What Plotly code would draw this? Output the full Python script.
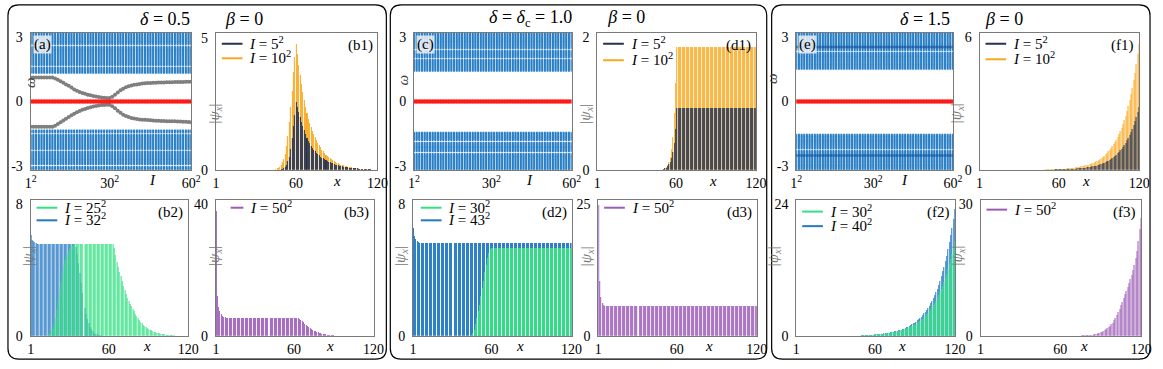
import plotly.graph_objects as go

W, H = 1163, 369

# ---- data -------------------------------------------------------------
n_vals = list(range(1, 61))          # I = n^2
sites = list(range(1, 121))          # lattice site x

# bulk band levels (omega) per panel
a_upper = [1.34, 1.39, 1.44, 1.49, 1.54, 1.59, 1.71, 1.76, 1.81, 1.86, 1.91, 1.96, 2.01, 2.06, 2.11, 2.16,
           2.21, 2.26, 2.31, 2.36, 2.41, 2.46, 2.51, 2.56, 2.68, 2.73, 2.78, 2.83, 2.88, 2.93, 2.98, 3.03,
           3.08, 3.13, 3.18, 3.23]
a_lower = [-1.35, -1.4, -1.45, -1.57, -1.62, -1.67, -1.72, -1.77, -1.82, -1.87, -1.92, -1.97, -2.02, -2.07,
           -2.12, -2.17, -2.22, -2.34, -2.39, -2.44, -2.49, -2.54, -2.59, -2.64, -2.69, -2.74, -2.79, -2.84,
           -2.89, -2.94, -3.06, -3.11, -3.16, -3.21]
c_upper = [1.44, 1.49, 1.54, 1.59, 1.64, 1.69, 1.74, 1.79, 1.84, 1.89, 1.94, 2.06, 2.11, 2.16, 2.21, 2.26,
           2.31, 2.36, 2.48, 2.53, 2.58, 2.63, 2.68, 2.73, 2.78, 2.83, 2.88, 2.93, 2.98, 3.03, 3.08, 3.13,
           3.18, 3.23]
c_lower = [-1.46, -1.51, -1.56, -1.61, -1.66, -1.71, -1.76, -1.81, -1.93, -1.98, -2.03, -2.08, -2.13, -2.18,
           -2.23, -2.28, -2.33, -2.45, -2.5, -2.55, -2.6, -2.65, -2.7, -2.75, -2.8, -2.85, -2.9, -2.95, -3.0,
           -3.05, -3.1, -3.15, -3.2]
e_upper = [1.53, 1.58, 1.63, 1.68, 1.73, 1.78, 1.83, 1.88, 1.93, 1.98, 2.03, 2.08, 2.13, 2.18, 2.23, 2.28,
           2.4, 2.45, 2.5, 2.55, 2.6, 2.65, 2.7, 2.75, 2.8, 2.85, 2.9, 2.95, 3.0, 3.05, 3.1, 3.15, 3.2]
e_lower = [-1.55, -1.6, -1.65, -1.7, -1.75, -1.8, -1.85, -1.9, -1.95, -2.0, -2.05, -2.1, -2.15, -2.2, -2.32,
           -2.37, -2.42, -2.47, -2.52, -2.57, -2.62, -2.67, -2.72, -2.77, -2.82, -2.87, -2.92, -2.97, -3.02,
           -3.07, -3.12, -3.17, -3.22]
e_dense = [2.55, -2.53]

# zero mode and edge states
zero_mode = [0.0] * 60
a_edge_up = [1.12] * 9 + [1.08, 1.02, 0.95, 0.88, 0.8, 0.73, 0.65, 0.56, 0.5, 0.44,
                          0.4, 0.36, 0.32, 0.29, 0.26, 0.23, 0.21, 0.19, 0.17, 0.16,
                          0.16, 0.22, 0.32, 0.42, 0.52, 0.6, 0.66, 0.71, 0.75, 0.78,
                          0.8, 0.82, 0.84, 0.85, 0.86, 0.87, 0.875, 0.88, 0.885, 0.89,
                          0.89, 0.9, 0.9, 0.905, 0.91, 0.91, 0.915, 0.915, 0.92, 0.92, 0.92]
a_edge_dn = [-1.18] * 9 + [-1.13, -1.05, -0.97, -0.89, -0.81, -0.73, -0.65, -0.57, -0.5, -0.44,
                           -0.39, -0.35, -0.31, -0.27, -0.24, -0.21, -0.19, -0.17, -0.16, -0.15,
                           -0.15, -0.22, -0.32, -0.43, -0.53, -0.62, -0.68, -0.73, -0.77, -0.8,
                           -0.82, -0.84, -0.85, -0.86, -0.87, -0.88, -0.89, -0.9, -0.9, -0.91,
                           -0.91, -0.92, -0.92, -0.93, -0.93, -0.94, -0.94, -0.95, -0.95, -0.96, -0.97]

# |psi_x| profiles
b1_I5 = [0] * 48 + [0.02, 0.04, 0.07, 0.12, 0.2, 0.32, 0.5, 0.8, 1.2, 1.65, 2.1, 2.57,
                    2.4, 2.2, 2.0, 1.8, 1.65, 1.5, 1.35, 1.22, 1.1, 1.0,
                    0.92, 0.84, 0.77, 0.71, 0.65, 0.6, 0.55, 0.5, 0.46, 0.43,
                    0.4, 0.37, 0.34, 0.31, 0.28, 0.26, 0.24, 0.22, 0.2, 0.18,
                    0.17, 0.15, 0.14, 0.13, 0.12, 0.11, 0.1, 0.09, 0.08, 0.075,
                    0.07, 0.065, 0.06, 0.055, 0.05, 0.045, 0.04, 0.035, 0.03, 0.03,
                    0.025, 0.02, 0.02, 0.015, 0.015, 0.01, 0.01, 0.01, 0.005, 0.005]
b1_I10 = [0] * 44 + [0.03, 0.05, 0.08, 0.12, 0.18, 0.28, 0.42, 0.6, 0.9, 1.3, 1.8, 2.4, 3.0, 3.7, 4.3, 4.77,
                     4.4, 4.0, 3.6, 3.25, 2.95, 2.65, 2.4, 2.15, 1.95, 1.78,
                     1.62, 1.48, 1.35, 1.23, 1.12, 1.02, 0.93, 0.85, 0.77, 0.7,
                     0.64, 0.58, 0.53, 0.48, 0.44, 0.4, 0.36, 0.33, 0.3, 0.27,
                     0.25, 0.22, 0.2, 0.18, 0.17, 0.15, 0.14, 0.12, 0.11, 0.1,
                     0.09, 0.08, 0.07, 0.065, 0.06, 0.05, 0.045, 0.04, 0.035, 0.03,
                     0.025, 0.02, 0.02, 0.015, 0.015, 0.01, 0.01, 0.01, 0.005, 0.005]
b2_I25 = [0] * 13 + [0.05, 0.1, 0.2, 0.35, 0.55, 0.75, 1.1, 1.6, 2.2, 2.8, 3.3, 3.8, 4.3, 4.6, 4.85, 5.05,
                     5.2, 5.35, 5.45, 5.52, 5.58] + [5.6] * 29 + \
         [5.35, 4.9, 4.5, 4.2, 3.9, 3.65, 3.35, 3.05, 2.8, 2.55,
          2.3, 2.1, 1.95, 1.8, 1.65, 1.5, 1.35, 1.2, 1.08, 0.96,
          0.86, 0.76, 0.66, 0.58, 0.52, 0.47, 0.42, 0.37, 0.33, 0.29,
          0.26, 0.23, 0.2, 0.18, 0.16, 0.14, 0.12, 0.1, 0.085, 0.07,
          0.06, 0.05, 0.04, 0.035, 0.03, 0.025, 0.02, 0.015, 0.01, 0.01,
          0.008, 0.006, 0.005, 0.004, 0.003, 0.002, 0.001]
b2_I32 = [6.1, 5.85, 5.75, 5.7, 5.65] + [5.6] * 29 + \
         [5.4, 5.0, 4.4, 3.8, 3.2, 2.6, 2.1, 1.7, 1.3, 1.0, 0.75, 0.55, 0.4, 0.3, 0.2, 0.14, 0.1, 0.06,
          0.04, 0.03, 0.02, 0.015, 0.01, 0.008, 0.005, 0.003] + [0] * 60
b3_I50 = [38, 12, 8.8, 7.5, 6.5, 6.0, 5.8, 5.65] + [5.55] * 55 + \
         [5.2, 4.8, 4.4, 4.1, 3.7, 3.3, 2.95, 2.6, 2.3, 2.05,
          1.8, 1.6, 1.4, 1.22, 1.07, 0.93, 0.8, 0.68, 0.58, 0.5,
          0.42, 0.35, 0.3, 0.25, 0.2, 0.16, 0.13, 0.1, 0.08, 0.06,
          0.05, 0.04, 0.03, 0.025, 0.02, 0.015, 0.012, 0.01, 0.008, 0.006,
          0.005, 0.004, 0.003, 0.002, 0.002, 0.001, 0.001, 0, 0, 0,
          0, 0, 0, 0, 0, 0, 0]
d1_I5 = [0] * 50 + [0.01, 0.02, 0.03, 0.05, 0.08, 0.12, 0.18, 0.27, 0.4, 0.62] + [0.93] * 60
d1_I10 = [0] * 50 + [0.01, 0.02, 0.04, 0.07, 0.12, 0.2, 0.32, 0.5, 0.85, 1.3] + [1.85] * 60
d2_I30 = [0] * 44 + [0.05, 0.15, 0.35, 0.7, 1.1, 1.5, 1.9, 2.4, 2.9, 3.35, 3.85, 4.3, 4.75, 5.05, 5.25] + [5.33] * 61
d2_I43 = [6.55, 6.05, 5.88, 5.76, 5.7, 5.66] + [5.63] * 114
d3_I50 = [24.8, 10.3, 7.3, 6.2, 5.85, 5.7] + [5.58] * 114
f1_I5 = [0] * 49 + [0.007, 0.008, 0.009, 0.01, 0.011, 0.012, 0.013, 0.014, 0.015, 0.016,
                    0.018, 0.02, 0.021, 0.023, 0.025, 0.028, 0.03, 0.033, 0.036, 0.039,
                    0.042, 0.046, 0.05, 0.055, 0.06, 0.065, 0.07, 0.078, 0.085, 0.09,
                    0.1, 0.11, 0.12, 0.13, 0.14, 0.15, 0.165, 0.18, 0.19, 0.21,
                    0.23, 0.25, 0.27, 0.3, 0.32, 0.35, 0.38, 0.41, 0.45, 0.49,
                    0.53, 0.58, 0.63, 0.68, 0.74, 0.81, 0.88, 0.95, 1.04, 1.13,
                    1.23, 1.33, 1.45, 1.57, 1.71, 1.86, 2.02, 2.2, 2.4, 2.62, 2.85]
f1_I10 = [0] * 49 + [0.014, 0.016, 0.017, 0.019, 0.021, 0.023, 0.025, 0.028, 0.03, 0.033,
                     0.036, 0.039, 0.042, 0.046, 0.05, 0.055, 0.06, 0.066, 0.072, 0.078,
                     0.085, 0.092, 0.1, 0.11, 0.12, 0.13, 0.14, 0.155, 0.17, 0.18,
                     0.2, 0.22, 0.24, 0.26, 0.28, 0.3, 0.33, 0.36, 0.39, 0.42,
                     0.46, 0.5, 0.54, 0.59, 0.64, 0.7, 0.76, 0.83, 0.9, 0.98,
                     1.07, 1.16, 1.26, 1.37, 1.49, 1.62, 1.76, 1.91, 2.08, 2.26,
                     2.46, 2.67, 2.9, 3.15, 3.42, 3.72, 4.05, 4.4, 4.8, 5.25, 5.7]
f2_I30 = [0] * 49 + [0.12, 0.13, 0.14, 0.15, 0.16, 0.17, 0.18, 0.2, 0.21, 0.23,
                     0.25, 0.26, 0.28, 0.31, 0.33, 0.35, 0.38, 0.4, 0.43, 0.47,
                     0.5, 0.54, 0.58, 0.62, 0.66, 0.71, 0.77, 0.82, 0.88, 0.95,
                     1.02, 1.09, 1.17, 1.26, 1.35, 1.45, 1.55, 1.67, 1.79, 1.92,
                     2.05, 2.2, 2.4, 2.55, 2.75, 2.95, 3.15, 3.4, 3.65, 3.9,
                     4.2, 4.5, 4.85, 5.2, 5.6, 6.0, 6.4, 6.9, 7.4, 7.9,
                     8.5, 9.1, 9.8, 10.5, 11.3, 12.1, 13.0, 13.9, 14.9, 16.0, 17.2]
f2_I40 = [0] * 49 + [0.11, 0.12, 0.13, 0.14, 0.15, 0.17, 0.18, 0.2, 0.21, 0.23,
                     0.25, 0.27, 0.3, 0.32, 0.34, 0.37, 0.4, 0.43, 0.46, 0.5,
                     0.54, 0.58, 0.63, 0.68, 0.73, 0.79, 0.85, 0.91, 0.98, 1.06,
                     1.14, 1.23, 1.33, 1.43, 1.55, 1.65, 1.8, 1.95, 2.1, 2.25,
                     2.4, 2.6, 2.8, 3.0, 3.25, 3.5, 3.8, 4.1, 4.4, 4.75,
                     5.1, 5.5, 5.9, 6.4, 6.9, 7.4, 8.0, 8.6, 9.3, 10.0,
                     10.8, 11.7, 12.6, 13.6, 14.6, 15.8, 17.0, 18.3, 19.7, 21.3, 23.0]
f3_I50 = [0] * 59 + [0.008, 0.01, 0.012, 0.014, 0.016, 0.018, 0.021, 0.024, 0.027, 0.03,
                     0.035, 0.04, 0.045, 0.05, 0.06, 0.07, 0.08, 0.095, 0.11, 0.13,
                     0.15, 0.18, 0.21, 0.25, 0.3, 0.35, 0.41, 0.49, 0.58, 0.7,
                     0.83, 0.97, 1.12, 1.3, 1.5, 1.7, 1.95, 2.25, 2.6, 3.0,
                     3.5, 4.0, 4.7, 5.4, 6.2, 7.0, 7.8, 8.6, 9.5, 10.3,
                     11.1, 12.0, 12.9, 13.9, 15.0, 16.2, 17.6, 19.2, 21.5, 24.2, 26.9]

for arr in [b1_I5, b1_I10, b2_I25, b2_I32, b3_I50, d1_I5, d1_I10, d2_I30, d2_I43, d3_I50,
            f1_I5, f1_I10, f2_I30, f2_I40, f3_I50]:
    assert len(arr) == 120, len(arr)
for arr in [a_edge_up, a_edge_dn]:
    assert len(arr) == 60, len(arr)

NAVY, ORANGE, GREEN, BLUE, PURPLE = "#25324f", "#f8a81e", "#33e084", "#2479c4", "#9b5cb8"
BAND, RED, GRAY = "#2a7fc6", "#ff1a1a", "#7f7f7f"
FONT = "Liberation Serif, Times New Roman, serif"
FRAME = "#7a7a7a"


def px(x):
    return x / W


def py(y):
    return 1 - y / H


fig = go.Figure()
layout = {}
annotations = []
shapes = []


def ax_name(i, kind):
    return f"{kind}axis" if i == 1 else f"{kind}axis{i}"


def ref(i, kind):
    return kind if i == 1 else f"{kind}{i}"


def setup_axes(i, box, xr, xticks, xtext, yr, yticks, ytext):
    l, t, r, b = box
    common = dict(showline=True, mirror=True, linecolor=FRAME, linewidth=1, showgrid=False,
                  zeroline=False, ticks="", tickfont=dict(family=FONT, size=14, color="black"))
    layout[ax_name(i, "x")] = dict(domain=[px(l), px(r)], range=xr, tickvals=xticks, ticktext=xtext,
                                   anchor=ref(i, "y"), **common)
    layout[ax_name(i, "y")] = dict(domain=[py(b), py(t)], range=yr, tickvals=yticks, ticktext=ytext,
                                   anchor=ref(i, "x"), ticklabelstandoff=4, **common)


def spectrum_panel(i, box, upper, lower, edges, dense, label, I_x, w_pos):
    setup_axes(i, box, [1, 60], [1, 30, 60], ["1<sup>2</sup>", "30<sup>2</sup>", "60<sup>2</sup>"],
               [-3.2, 3.2], [-3, 0, 3], ["-3", "0", "3"])
    levels = upper + lower
    xs = [n for lv in levels for n in n_vals]
    ys = [lv for lv in levels for n in n_vals]
    fig.add_trace(go.Scatter(x=xs, y=ys, mode="markers", xaxis=ref(i, "x"), yaxis=ref(i, "y"),
                             marker=dict(symbol="square", size=1.9, color=BAND, line_width=0),
                             showlegend=False, hoverinfo="skip"))
    if dense:
        xs = [n for lv in dense for n in n_vals]
        ys = [lv for lv in dense for n in n_vals]
        fig.add_trace(go.Scatter(x=xs, y=ys, mode="markers", xaxis=ref(i, "x"), yaxis=ref(i, "y"),
                                 marker=dict(symbol="square", size=2.4, color="#2064a8", line_width=0),
                                 showlegend=False, hoverinfo="skip"))
    for e in edges:
        fig.add_trace(go.Scatter(x=n_vals, y=e, mode="markers", xaxis=ref(i, "x"), yaxis=ref(i, "y"),
                                 marker=dict(size=4, color=GRAY), showlegend=False, hoverinfo="skip"))
    fig.add_trace(go.Scatter(x=n_vals, y=zero_mode, mode="markers", xaxis=ref(i, "x"), yaxis=ref(i, "y"),
                             marker=dict(size=4.5, color=RED), showlegend=False, hoverinfo="skip"))
    l, t, r, b = box
    annotations.append(dict(x=px(l + 2), y=py(t + 2), xref="paper", yref="paper", xanchor="left",
                            yanchor="top", text=label, showarrow=False, bgcolor="rgba(235,240,245,0.85)",
                            borderpad=0, font=dict(family=FONT, size=15, color="black")))
    annotations.append(dict(x=px(I_x), y=py(b + 10), xref="paper", yref="paper", text="<i>I</i>",
                            yanchor="middle", showarrow=False, font=dict(family=FONT, size=15, color="black")))
    annotations.append(dict(x=px(w_pos[0]), y=py(w_pos[1]), xref="paper", yref="paper", text="<i>ω</i>",
                            textangle=-90, showarrow=False, font=dict(family=FONT, size=15, color="#444")))


def bar_panel(i, box, series, ymax, ytick, label, x_lab, psi_x, rows, line_x):
    setup_axes(i, box, [1, 120], [1, 60, 120], ["1", "60", "120"],
               [0, ymax], [0, ytick], ["0", str(ytick)])
    l, t, r, b = box
    # series listed back to front; legend lists them front first
    for name, vals, color in series:
        fig.add_trace(go.Bar(x=sites, y=vals, width=0.75,
                             marker=dict(color=color, line=dict(width=0.02, color="white")),
                             xaxis=ref(i, "x"), yaxis=ref(i, "y"), showlegend=False, hoverinfo="skip"))
    for (name, vals, color), ry in zip(series[::-1], rows):
        shapes.append(dict(type="line", xref="paper", yref="paper", x0=px(l + line_x[0]), x1=px(l + line_x[1]),
                           y0=py(t + ry), y1=py(t + ry), line=dict(color=color, width=2)))
        annotations.append(dict(x=px(l + line_x[1] + 5), y=py(t + ry - 1), xref="paper", yref="paper",
                                xanchor="left", yanchor="middle", text=name, showarrow=False,
                                font=dict(family=FONT, size=15, color="black")))
    annotations.append(dict(x=px(r - 3), y=py(t + 2), xref="paper", yref="paper", xanchor="right",
                            yanchor="top", text=label, showarrow=False,
                            font=dict(family=FONT, size=15, color="black")))
    annotations.append(dict(x=px(x_lab), y=py(b + 11), xref="paper", yref="paper", text="<i>x</i>",
                            yanchor="middle", showarrow=False, font=dict(family=FONT, size=15, color="black")))
    annotations.append(dict(x=px(psi_x), y=py((t + b) / 2), xref="paper", yref="paper",
                            text="|<i>ψ<sub>x</sub></i>|", textangle=-90, showarrow=False,
                            font=dict(family=FONT, size=15, color="#777")))


def I_name(k):
    return f"<i>I</i> = {k}<sup>2</sup>"


TOP, BOT = (31, 172), (203, 343)
ROWS_TOP, ROWS_BOT = (11, 26), (8, 21)
LINE = (6, 27)

spectrum_panel(1, (25, TOP[0], 188, TOP[1]), a_upper, a_lower, [a_edge_up, a_edge_dn], None, "(a)", 143, (15, 74))
bar_panel(2, (213, TOP[0], 377, TOP[1]), [(I_name(10), b1_I10, ORANGE), (I_name(5), b1_I5, NAVY)],
          5.2, 5, "(b1)", 330, 201, ROWS_TOP, LINE)
bar_panel(3, (25, BOT[0], 185, BOT[1]), [(I_name(32), b2_I32, BLUE), (I_name(25), b2_I25, GREEN)],
          8.25, 8, "(b2)", 137, 12, ROWS_BOT, LINE)
bar_panel(4, (213, BOT[0], 373, BOT[1]), [(I_name(50), b3_I50, PURPLE)],
          41.2, 40, "(b3)", 323, 201, ROWS_BOT, (15, 28))

spectrum_panel(5, (414, TOP[0], 574, TOP[1]), c_upper, c_lower, [], None, "(c)", 531, (403, 72))
bar_panel(6, (600, TOP[0], 761, TOP[1]), [(I_name(10), d1_I10, ORANGE), (I_name(5), d1_I5, NAVY)],
          2.06, 2, "(d1)", 717, 589, (11, 28), LINE)
bar_panel(7, (413, BOT[0], 574, BOT[1]), [(I_name(43), d2_I43, BLUE), (I_name(30), d2_I30, GREEN)],
          8.25, 8, "(d2)", 522, 401, ROWS_BOT, (8, 29))
bar_panel(8, (601, BOT[0], 762, BOT[1]), [(I_name(50), d3_I50, PURPLE)],
          25.7, 25, "(d3)", 713, 589, ROWS_BOT, LINE)

spectrum_panel(9, (802, TOP[0], 961, TOP[1]), e_upper, e_lower, [], e_dense, "(e)", 917, (788, 70))
bar_panel(10, (988, TOP[0], 1150, TOP[1]), [(I_name(10), f1_I10, ORANGE), (I_name(5), f1_I5, NAVY)],
          6.2, 6, "(f1)", 1102, 977, (11, 27), LINE)
bar_panel(11, (802, BOT[0], 963, BOT[1]), [(I_name(40), f2_I40, BLUE), (I_name(30), f2_I30, GREEN)],
          24.7, 24, "(f2)", 915, 790, (12, 27), LINE)
bar_panel(12, (989, BOT[0], 1152, BOT[1]), [(I_name(50), f3_I50, PURPLE)],
          30.9, 30, "(f3)", 1100, 977, (10, 22), LINE)

# group titles
sp = "\u2003\u2003"
for cx, txt in [(198, "<i>δ</i> = 0.5" + sp + "<i>β</i> = 0"),
                (569, "<i>δ</i> = <i>δ</i><sub>c</sub> = 1.0" + sp + "<i>β</i> = 0"),
                (970, "<i>δ</i> = 1.5" + sp + "<i>β</i> = 0")]:
    annotations.append(dict(x=px(cx), y=py(16), xref="paper", yref="paper", text=txt, showarrow=False,
                            xanchor="center", yanchor="middle", font=dict(family=FONT, size=18, color="black")))


def rrect(x0, y0, x1, y1, r=11):
    X0, X1, Y0, Y1 = px(x0), px(x1), py(y0), py(y1)
    rx, ry = r / W, r / H
    return (f"M {X0 + rx},{Y0} L {X1 - rx},{Y0} Q {X1},{Y0} {X1},{Y0 - ry} "
            f"L {X1},{Y1 + ry} Q {X1},{Y1} {X1 - rx},{Y1} L {X0 + rx},{Y1} Q {X0},{Y1} {X0},{Y1 + ry} "
            f"L {X0},{Y0 - ry} Q {X0},{Y0} {X0 + rx},{Y0} Z")


shapes += [dict(type="path", xref="paper", yref="paper", path=rrect(*bx),
                line=dict(color="black", width=1.2))
           for bx in [(2, 2, 386, 367), (390, 2, 772, 367), (777, 2, 1161, 367)]]

fig.update_layout(**layout)
fig.update_layout(width=W, height=H, autosize=False, margin=dict(l=0, r=0, t=0, b=0),
                  paper_bgcolor="white", plot_bgcolor="white", barmode="overlay", bargap=0,
                  annotations=annotations, shapes=shapes, hovermode=False, showlegend=False,
                  font=dict(family=FONT, color="black"))

fig.write_html("out.html", config={"displayModeBar": False},
               post_script="document.body.style.margin='0px';")
